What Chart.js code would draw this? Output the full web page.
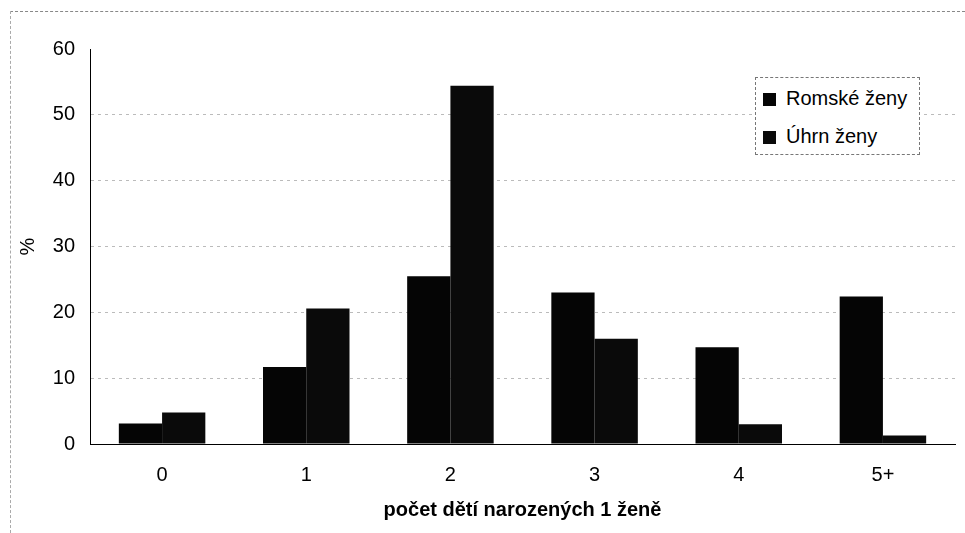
<!DOCTYPE html>
<html>
<head>
<meta charset="utf-8">
<script src="https://cdn.jsdelivr.net/npm/chart.js@4/dist/chart.umd.min.js"></script>
<style>
  body { margin: 0; background: #fff; }
  #wrap { position: relative; width: 965px; height: 533px; }
  #frame {
    position: absolute; left: 10px; top: 11px; right: 0; bottom: 0;
    border-top: 1px dashed #888; border-left: 1px dashed #aaa;
    pointer-events: none;
  }
  #legend {
    position: absolute; left: 755px; top: 77px; width: 163px; height: 76px;
    border: 1px dashed #777; background: #fff;
    font-family: "Liberation Sans", Arial, sans-serif; font-size: 20px; color: #000;
  }
  #legend div { position: absolute; left: 7px; height: 24px; line-height: 24px; white-space: nowrap; }
  #legend span.box { display: inline-block; width: 13px; height: 13px; margin-right: 10px; vertical-align: -1px; }
</style>
</head>
<body>
<div id="wrap">
  <canvas id="chart" width="965" height="533"></canvas>
  <div id="frame"></div>
  <div id="legend"></div>
</div>
<script>
// data
const categories = ['0', '1', '2', '3', '4', '5+'];
const romskeZeny = [3.1, 11.7, 25.5, 23.0, 14.7, 22.4];
const uhrnZeny = [4.8, 20.6, 54.4, 16.0, 3.0, 1.3];
const seriesNames = ['Romské ženy', 'Úhrn ženy'];
const seriesColors = ['#050505', '#0a0a0a'];

const font = "'Liberation Sans', Arial, sans-serif";

const ctx = document.getElementById('chart');
const chart = new Chart(ctx, {
  type: 'bar',
  data: {
    labels: categories,
    datasets: [
      { label: seriesNames[0], data: romskeZeny, backgroundColor: seriesColors[0] },
      { label: seriesNames[1], data: uhrnZeny, backgroundColor: seriesColors[1] }
    ]
  },
  options: {
    responsive: false,
    animation: false,
    layout: { padding: { top: 49, right: 10, left: 0, bottom: 0 } },
    datasets: { bar: { categoryPercentage: 0.6, barPercentage: 1.0 } },
    plugins: { legend: { display: false }, tooltip: { enabled: false } },
    scales: {
      x: {
        grid: { display: false, drawTicks: false },
        border: { color: '#000', width: 1 },
        ticks: { color: '#000', font: { family: font, size: 20 }, padding: 19 },
        title: {
          display: true, text: 'počet dětí narozených 1 ženě', color: '#000',
          font: { family: font, size: 20, weight: 'bold' }, padding: { top: 0, bottom: 11 }
        },
        afterFit: s => { s.height = 89; }
      },
      y: {
        min: 0, max: 60,
        ticks: { stepSize: 10, color: '#000', font: { family: font, size: 20 }, padding: 15 },
        grid: {
          drawTicks: false,
          color: c => (c.tick.value === 0 || c.tick.value === 60) ? 'rgba(0,0,0,0)' : '#bbb'
        },
        // in v4 border.dash styles the grid lines, the axis line stays solid
        border: { color: '#000', width: 1, dash: [3, 4] },
        title: {
          display: true, text: '%', color: '#000',
          font: { family: font, size: 20 }, padding: { top: 16, bottom: 0 }
        },
        afterFit: s => { s.width = 90; }
      }
    }
  }
});

// legend box built from the series names
const lg = document.getElementById('legend');
seriesNames.forEach((name, i) => {
  const row = document.createElement('div');
  row.style.top = (i === 0 ? 8 : 46) + 'px';
  row.innerHTML = '<span class="box" style="background:' + seriesColors[i] + '"></span>' + name;
  lg.appendChild(row);
});
</script>
</body>
</html>
